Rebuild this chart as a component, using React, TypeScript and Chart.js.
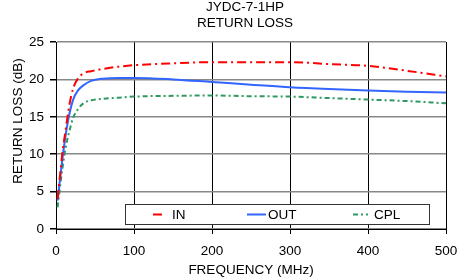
import React, { useEffect, useRef } from "react";
import { Chart, registerables } from "chart.js";

Chart.register(...registerables);

const titleLines = ["JYDC-7-1HP", "RETURN LOSS"];
const xTitle = "FREQUENCY (MHz)";
const yTitle = "RETURN LOSS (dB)";

const freq = [2, 5, 8, 12, 17, 22, 28, 35, 45, 60, 80, 100, 150, 200, 250, 300, 350, 400, 450, 500];
const inLoss = [4.0, 7.0, 10.0, 13.0, 16.5, 18.8, 20.1, 20.8, 21.1, 21.4, 21.7, 21.9, 22.15, 22.3, 22.3, 22.3, 22.05, 21.8, 21.15, 20.4];
const outLoss = [3.8, 6.5, 9.2, 12.3, 15.3, 17.3, 18.5, 19.2, 19.8, 20.1, 20.2, 20.2, 20.0, 19.65, 19.3, 18.95, 18.7, 18.5, 18.35, 18.25];
const cplLoss = [2.9, 5.5, 7.9, 10.7, 13.0, 14.9, 16.0, 16.8, 17.2, 17.4, 17.55, 17.7, 17.8, 17.85, 17.75, 17.7, 17.5, 17.3, 17.1, 16.8];

const seriesNames = ["IN", "OUT", "CPL"];
const xTicksMax = 500;
const yTicksMax = 25;

const FONT = "Liberation Sans, Arial, sans-serif";

const textPlugin = {
  id: "texts",
  afterDraw(chart: any) {
    const ctx = chart.ctx;
    const ca = chart.chartArea;
    ctx.save();
    ctx.fillStyle = "#000";
    ctx.font = `13.5px ${FONT}`;
    ctx.textAlign = "center";
    ctx.textBaseline = "middle";
    ctx.fillText(titleLines[0], 245, 7);
    ctx.fillText(titleLines[1], 245, 23);
    ctx.fillText(xTitle, (ca.left + ca.right) / 2, 270);
    ctx.translate(18, 121);
    ctx.rotate(-Math.PI / 2);
    ctx.fillText(yTitle, 0, 0);
    ctx.restore();

    // legend box inside plot
    const bx = ca.left + 69;
    const by = ca.bottom - 25;
    const bw = 304;
    const bh = 20;
    ctx.save();
    ctx.fillStyle = "#fff";
    ctx.fillRect(bx, by, bw, bh);
    ctx.strokeStyle = "#333";
    ctx.lineWidth = 1;
    ctx.strokeRect(bx + 0.5, by + 0.5, bw, bh);
    const entries = [
      { x0: bx + 28, x1: bx + 41, tx: bx + 47 },
      { x0: bx + 122, x1: bx + 141, tx: bx + 143 },
      { x0: bx + 228, x1: bx + 243, tx: bx + 249 },
    ];
    const cy = by + bh / 2 + 0.5;
    chart.data.datasets.forEach((ds: any, i: number) => {
      const e = entries[i];
      ctx.strokeStyle = ds.borderColor;
      ctx.lineWidth = ds.borderWidth;
      ctx.setLineDash(ds.borderDash || []);
      ctx.beginPath();
      ctx.moveTo(e.x0, cy);
      ctx.lineTo(e.x1, cy);
      ctx.stroke();
      ctx.setLineDash([]);
      ctx.fillStyle = "#000";
      ctx.font = `13.5px ${FONT}`;
      ctx.textAlign = "left";
      ctx.textBaseline = "middle";
      ctx.fillText(ds.label, e.tx, cy + 1);
    });
    ctx.restore();
  },
};

export default function App() {
  const ref = useRef<HTMLCanvasElement>(null);
  useEffect(() => {
    const mk = (vals: number[]) => freq.map((f, i) => ({ x: f, y: vals[i] }));
    const chart = new Chart(ref.current!, {
      type: "line",
      data: {
        datasets: [
          { label: seriesNames[0], data: mk(inLoss), borderColor: "#FF0000", borderWidth: 2, borderDash: [9, 4, 2, 4], pointRadius: 0, cubicInterpolationMode: "monotone" },
          { label: seriesNames[1], data: mk(outLoss), borderColor: "#3366FF", borderWidth: 2, pointRadius: 0, cubicInterpolationMode: "monotone" },
          { label: seriesNames[2], data: mk(cplLoss), borderColor: "#2E9960", borderWidth: 2, borderDash: [5, 3, 2, 3], pointRadius: 0, cubicInterpolationMode: "monotone" },
        ] as any,
      },
      options: {
        animation: false,
        responsive: false,
        layout: { padding: { top: 42, right: 11, left: 0, bottom: 0 } },
        plugins: { legend: { display: false }, title: { display: false }, tooltip: { enabled: false } },
        scales: {
          x: {
            type: "linear",
            min: 0,
            max: xTicksMax,
            ticks: { stepSize: 100, color: "#000", font: { family: FONT, size: 13.5 }, padding: 9, maxRotation: 0 },
            grid: { color: "#000", tickColor: "#000", tickLength: 5, lineWidth: 1 },
            border: { color: "#000", width: 1 },
            afterFit: (s: any) => { s.height = 50; s.paddingLeft = 0; s.paddingRight = 0; },
          },
          y: {
            min: 0,
            max: yTicksMax,
            ticks: { stepSize: 5, color: "#000", font: { family: FONT, size: 13.5 }, padding: 6 },
            grid: { color: "#888", tickColor: "#000", tickLength: 6, lineWidth: 1.5 },
            border: { color: "#000", width: 1 },
            afterFit: (s: any) => { s.width = 56; s.paddingTop = 0; s.paddingBottom = 0; },
          },
        },
      },
      plugins: [textPlugin],
    });
    return () => chart.destroy();
  }, []);
  return (
    <div style={{ position: "fixed", left: 0, top: 0, width: 457, height: 279, background: "#fff" }}>
      <canvas ref={ref} width={457} height={279} />
    </div>
  );
}
